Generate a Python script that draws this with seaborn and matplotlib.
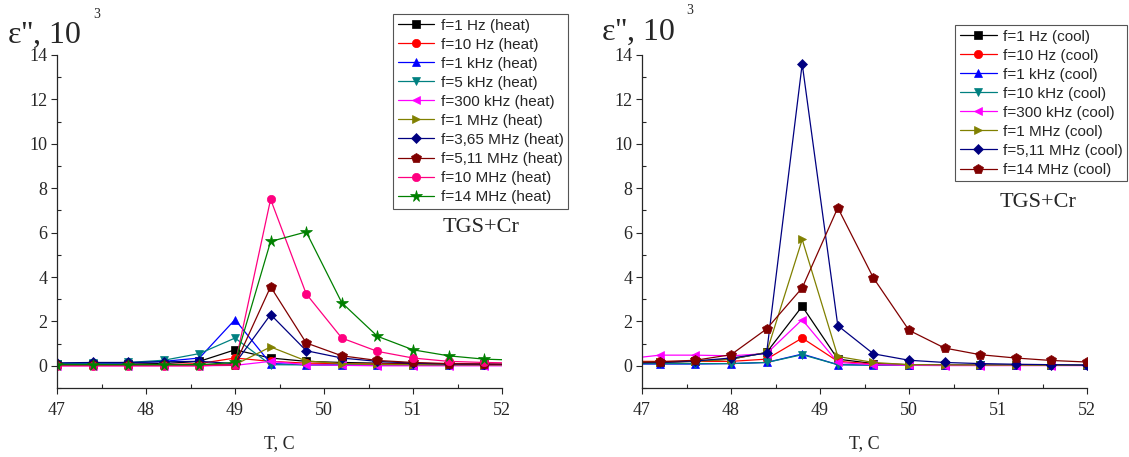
import matplotlib
matplotlib.use("Agg")
import matplotlib.pyplot as plt
from matplotlib.ticker import MultipleLocator
import seaborn as sns

# --- Heating run (left panel) ---
t_heat = [47.0, 47.4, 47.8, 48.2, 48.6, 49.0, 49.4, 49.8, 50.2, 50.6, 51.0, 51.4, 51.8, 52.2]
heat_labels = ["f=1 Hz (heat)", "f=10 Hz (heat)", "f=1 kHz (heat)", "f=5 kHz (heat)",
               "f=300 kHz (heat)", "f=1 MHz (heat)", "f=3,65 MHz (heat)", "f=5,11 MHz (heat)",
               "f=10 MHz (heat)", "f=14 MHz (heat)"]
heat_1hz = [0.08, 0.08, 0.08, 0.10, 0.20, 0.72, 0.35, 0.20, 0.15, 0.12, 0.10, 0.08, 0.07, 0.06]
heat_10hz = [0.02, 0.02, 0.03, 0.05, 0.10, 0.35, 0.20, 0.12, 0.10, 0.08, 0.07, 0.06, 0.05, 0.05]
heat_1khz = [0.10, 0.12, 0.13, 0.20, 0.35, 2.08, 0.10, 0.05, 0.04, 0.03, 0.03, 0.03, 0.03, 0.03]
heat_5khz = [0.10, 0.12, 0.15, 0.25, 0.55, 1.25, 0.05, 0.04, 0.03, 0.03, 0.03, 0.03, 0.03, 0.03]
heat_300khz = [0.00, 0.00, 0.00, 0.00, 0.00, 0.02, 0.20, 0.05, 0.02, 0.00, 0.00, 0.00, 0.00, 0.00]
heat_1mhz = [0.03, 0.03, 0.03, 0.03, 0.03, 0.05, 0.85, 0.22, 0.10, 0.06, 0.05, 0.04, 0.04, 0.04]
heat_365mhz = [0.13, 0.15, 0.15, 0.18, 0.20, 0.10, 2.31, 0.68, 0.35, 0.20, 0.12, 0.08, 0.07, 0.06]
heat_511mhz = [0.02, 0.02, 0.02, 0.03, 0.03, 0.05, 3.56, 1.03, 0.45, 0.24, 0.15, 0.10, 0.08, 0.07]
heat_10mhz = [0.00, 0.00, 0.00, 0.00, 0.00, 0.05, 7.50, 3.24, 1.25, 0.65, 0.35, 0.20, 0.15, 0.12]
heat_14mhz = [0.05, 0.05, 0.05, 0.05, 0.05, 0.15, 5.60, 6.03, 2.84, 1.33, 0.72, 0.45, 0.30, 0.25]
heat_series = [heat_1hz, heat_10hz, heat_1khz, heat_5khz, heat_300khz,
               heat_1mhz, heat_365mhz, heat_511mhz, heat_10mhz, heat_14mhz]
heat_colors = ["#000000", "#FF0000", "#0000FF", "#008080", "#FF00FF",
               "#808000", "#000080", "#800000", "#FF0080", "#008000"]
heat_markers = ["s", "o", "^", "v", "<", ">", "D", "p", "o", "*"]

# --- Cooling run (right panel) ---
t_cool = [46.8, 47.2, 47.6, 48.0, 48.4, 48.8, 49.2, 49.6, 50.0, 50.4, 50.8, 51.2, 51.6, 52.0]
cool_labels = ["f=1 Hz (cool)", "f=10 Hz (cool)", "f=1 kHz (cool)", "f=10 kHz (cool)",
               "f=300 kHz (cool)", "f=1 MHz (cool)", "f=5,11 MHz (cool)", "f=14 MHz (cool)"]
cool_1hz = [0.12, 0.15, 0.20, 0.30, 0.60, 2.68, 0.30, 0.10, 0.05, 0.04, 0.03, 0.03, 0.02, 0.02]
cool_10hz = [0.20, 0.20, 0.20, 0.20, 0.30, 1.25, 0.20, 0.08, 0.05, 0.04, 0.03, 0.03, 0.02, 0.02]
cool_1khz = [0.08, 0.08, 0.08, 0.10, 0.15, 0.53, 0.05, 0.03, 0.02, 0.02, 0.02, 0.02, 0.02, 0.02]
cool_10khz = [0.10, 0.10, 0.10, 0.10, 0.15, 0.50, 0.05, 0.03, 0.02, 0.02, 0.02, 0.02, 0.02, 0.02]
cool_300khz = [0.30, 0.48, 0.48, 0.45, 0.55, 2.08, 0.15, 0.05, 0.02, 0.01, 0.01, 0.01, 0.01, 0.01]
cool_1mhz = [0.15, 0.18, 0.20, 0.30, 0.60, 5.69, 0.42, 0.15, 0.05, 0.04, 0.03, 0.03, 0.02, 0.02]
cool_511mhz = [0.12, 0.15, 0.22, 0.35, 0.57, 13.6, 1.81, 0.54, 0.25, 0.15, 0.10, 0.07, 0.05, 0.03]
cool_14mhz = [0.15, 0.18, 0.25, 0.50, 1.66, 3.51, 7.12, 3.96, 1.60, 0.80, 0.50, 0.35, 0.24, 0.17]
cool_series = [cool_1hz, cool_10hz, cool_1khz, cool_10khz, cool_300khz,
               cool_1mhz, cool_511mhz, cool_14mhz]
cool_colors = ["#000000", "#FF0000", "#0000FF", "#008080", "#FF00FF",
               "#808000", "#000080", "#800000"]
cool_markers = ["s", "o", "^", "v", "<", ">", "D", "p"]

sns.set_style("ticks")
plt.rcParams["font.family"] = ["Liberation Serif", "DejaVu Serif"]

W, H = 1129, 457
fig = plt.figure(figsize=(W / 100, H / 100), dpi=100)

marker_size = {"*": 8.5, "D": 5, "p": 7}


def draw_panel(ax, t, series, labels, colors, markers, legend_anchor, note_xy):
    for y, lab, c, m in zip(series, labels, colors, markers):
        sns.lineplot(x=t, y=y, ax=ax, color=c, marker=m, markersize=marker_size.get(m, 6),
                     markeredgecolor=c, markeredgewidth=0.5, linewidth=0.9,
                     label=lab, legend=False)
    ax.set_xlim(47, 52)
    ax.set_ylim(-1, 14)
    ax.xaxis.set_major_locator(MultipleLocator(1))
    ax.xaxis.set_minor_locator(MultipleLocator(0.5))
    ax.yaxis.set_major_locator(MultipleLocator(2))
    ax.yaxis.set_minor_locator(MultipleLocator(1))
    ax.tick_params(which="major", direction="out", length=4, width=0.8,
                   labelsize=13, pad=3)
    ax.tick_params(which="minor", direction="in", length=3, width=0.8)
    ax.tick_params(axis="x", which="major", pad=6)
    sns.despine(ax=ax)
    for s in ["left", "bottom"]:
        ax.spines[s].set_linewidth(0.9)
    ax.set_xlabel("T, C", fontsize=13, labelpad=12)
    ax.set_ylabel("")
    leg = ax.legend(loc="upper right", bbox_to_anchor=legend_anchor,
                    bbox_transform=fig.transFigure, frameon=True, fancybox=False,
                    edgecolor="#555555", framealpha=1, borderpad=0.3,
                    labelspacing=0.33, handlelength=2.4, handletextpad=0.4,
                    borderaxespad=0, prop={"family": "Liberation Sans", "size": 11})
    leg.get_frame().set_linewidth(0.8)
    fig.text(note_xy[0] / W, 1 - note_xy[1] / H, "TGS+Cr", fontsize=16,
             ha="center", va="center")


ax1 = fig.add_axes([57 / W, 1 - 388 / H, 445 / W, 333 / H])
ax2 = fig.add_axes([642 / W, 1 - 388 / H, 445 / W, 333 / H])

draw_panel(ax1, t_heat, heat_series, heat_labels, heat_colors, heat_markers,
           (568 / W, 1 - 14 / H), (481, 227))
draw_panel(ax2, t_cool, cool_series, cool_labels, cool_colors, cool_markers,
           (1127 / W, 1 - 25 / H), (1038, 203))

# y-axis captions above each panel
for x0, base, x3, base3 in [(8, 43, 93, 18), (602, 40, 686, 14)]:
    fig.text(x0 / W, 1 - base / H, "ε'', 10", fontsize=23, ha="left", va="baseline")
    fig.text(x3 / W, 1 - base3 / H, "3", fontsize=10, ha="left", va="baseline")

fig.savefig("out.png", dpi=100, facecolor="white")
